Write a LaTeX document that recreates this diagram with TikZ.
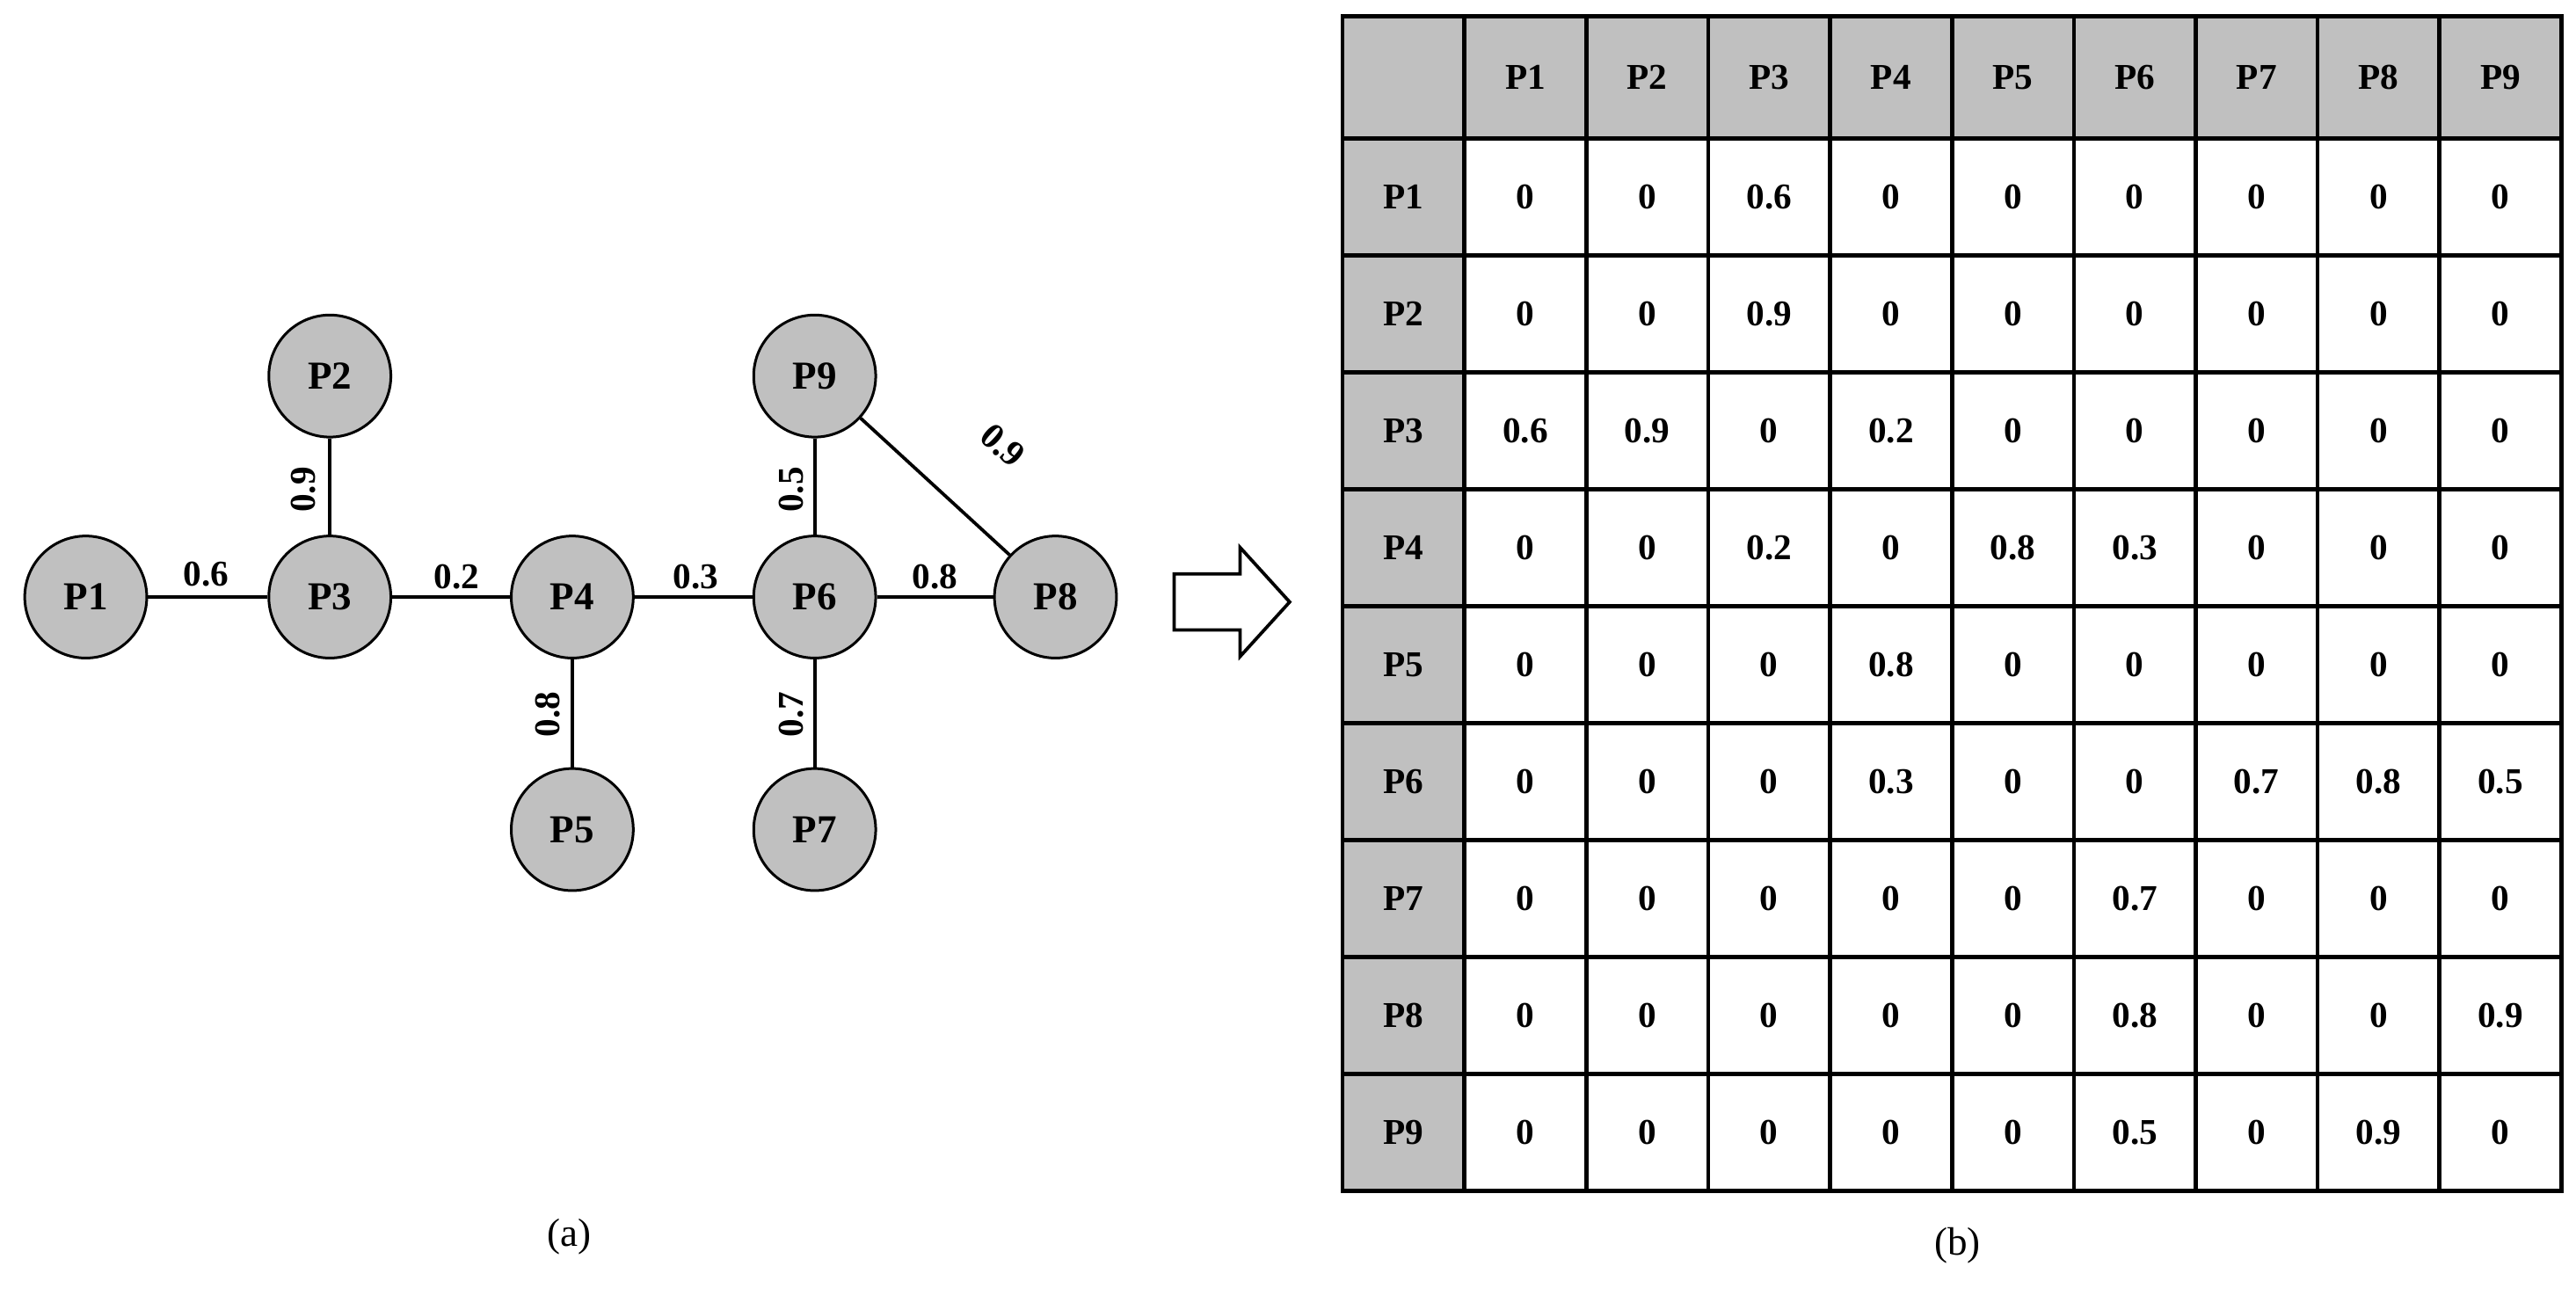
\documentclass[tikz,border=0pt]{standalone}
\usepackage{fontspec}
\setmainfont{Liberation Serif}
\definecolor{gr}{RGB}{192,192,192}
\begin{document}
\begin{tikzpicture}[x=1pt,y=-1pt,
 pn/.style={circle,draw,line width=1.6pt,fill=gr,minimum size=74pt,inner sep=0pt,font=\fontsize{24}{26}\selectfont\bfseries},
 ed/.style={line width=2pt},
 wl/.style={font=\fontsize{22}{24}\selectfont\bfseries,inner sep=1pt},
 ce/.style={font=\fontsize{22}{24}\selectfont\bfseries},
 gl/.style={line width=2.5pt}]
\useasboundingbox (0,0) rectangle (1562,790);
\node[pn] (P1) at (52,362) {P1};
\node[pn] (P2) at (200,228) {P2};
\node[pn] (P3) at (200,362) {P3};
\node[pn] (P4) at (347,362) {P4};
\node[pn] (P5) at (347,503) {P5};
\node[pn] (P6) at (494,362) {P6};
\node[pn] (P7) at (494,503) {P7};
\node[pn] (P8) at (640,362) {P8};
\node[pn] (P9) at (494,228) {P9};
\draw[ed] (P1) -- (P3);
\draw[ed] (P2) -- (P3);
\draw[ed] (P3) -- (P4);
\draw[ed] (P4) -- (P6);
\draw[ed] (P4) -- (P5);
\draw[ed] (P6) -- (P8);
\draw[ed] (P6) -- (P7);
\draw[ed] (P6) -- (P9);
\draw[ed] (P9) -- (P8);
\node[wl] (l13) at (125,348) {0.6};
\node[wl,rotate=90] (l23) at (184,297) {0.9};
\node[wl] (l34) at (277,350) {0.2};
\node[wl] (l46) at (422,350) {0.3};
\node[wl] (l68) at (567,350) {0.8};
\node[wl,rotate=90] (l69) at (480,297) {0.5};
\node[wl,rotate=90] (l45) at (332,433) {0.8};
\node[wl,rotate=90] (l67) at (480,433) {0.7};
\node[wl,rotate=-42] (l98) at (608,270) {0.9};
\draw[line width=2pt,fill=white] (712,348) -- (752,348) -- (752,332) -- (782,365) -- (752,398) -- (752,382) -- (712,382) -- cycle;
% table
\fill[gr] (814,10) rectangle (1553,84);
\fill[gr] (814,10) rectangle (888,722);
\draw[gl] (814,10) rectangle (1553,722);
\draw[gl] (814,84) -- (1553,84);
\draw[gl] (888,10) -- (888,722);
\foreach \i in {1,...,8} {
 \pgfmathsetmacro\xx{888+73.9*\i}
 \pgfmathsetmacro\yy{84+70.9*\i}
 \draw[gl] (\xx,10) -- (\xx,722);
 \draw[gl] (814,\yy) -- (1553,\yy);
}
\foreach \t [count=\c] in {P1,P2,P3,P4,P5,P6,P7,P8,P9} {
 \pgfmathsetmacro\xa{888+73.9*(\c-0.5)}
 \pgfmathsetmacro\ya{84+70.9*(\c-0.5)}
 \node[ce] (h\c) at (\xa,47) {\t};
 \node[ce] (r\c) at (851,\ya) {\t};
}
\foreach \row [count=\r] in {
 {0,0,0.6,0,0,0,0,0,0},
 {0,0,0.9,0,0,0,0,0,0},
 {0.6,0.9,0,0.2,0,0,0,0,0},
 {0,0,0.2,0,0.8,0.3,0,0,0},
 {0,0,0,0.8,0,0,0,0,0},
 {0,0,0,0.3,0,0,0.7,0.8,0.5},
 {0,0,0,0,0,0.7,0,0,0},
 {0,0,0,0,0,0.8,0,0,0.9},
 {0,0,0,0,0,0.5,0,0.9,0}} {
 \foreach \v [count=\c] in \row {
  \pgfmathsetmacro\xa{888+73.9*(\c-0.5)}
  \pgfmathsetmacro\ya{84+70.9*(\r-0.5)}
  \node[ce] (c\r-\c) at (\xa,\ya) {\v};
 }
}
\node[font=\fontsize{24}{26}\selectfont] (capa) at (345,750) {(a)};
\node[font=\fontsize{24}{26}\selectfont] (capb) at (1187,755) {(b)};
\end{tikzpicture}
\end{document}
